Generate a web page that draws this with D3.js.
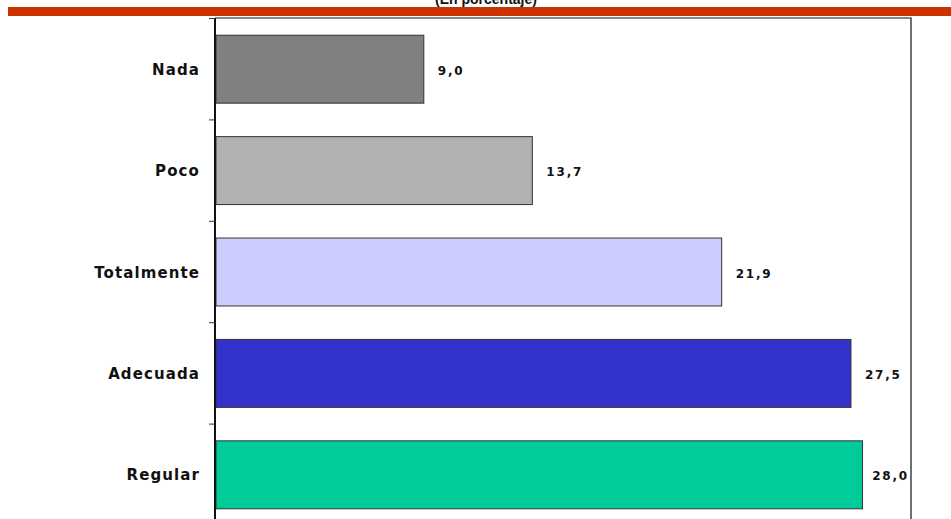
<!DOCTYPE html>
<html><head><meta charset="utf-8">
<script src="https://cdn.jsdelivr.net/npm/d3@7"></script>
<style>body{margin:0;background:#fff}svg{display:block}</style>
</head><body>
<svg id="c" width="951" height="519"></svg>
<script>
const categories = ["Nada","Poco","Totalmente","Adecuada","Regular"];
const values = [9.0, 13.7, 21.9, 27.5, 28.0];
const colors = ["#808080","#B2B2B2","#CCCCFF","#3333CC","#00CC99"];
const title = "(En porcentaje)";

const svg = d3.select("#c");
const pL = 215, pR = 911, pT = 18, pB = 525;
const x = d3.scaleLinear().domain([0, 30.1]).range([pL+1, pR]);
const y = d3.scaleBand().domain(categories).range([pT, pB]).paddingInner(0.33).paddingOuter(0.165);
const yTicks = d3.scaleBand().domain(categories).range([pT, pB]);
const FONT = "DejaVu Sans, Verdana, sans-serif";

// header band
svg.append("rect").attr("x",8).attr("y",7).attr("width",943).attr("height",9).attr("fill","#CC3300");
svg.append("text").attr("x",486).attr("y",4).attr("text-anchor","middle")
  .attr("font-family","Liberation Sans, Arial, sans-serif").attr("font-weight","bold").attr("font-size",14).attr("fill","#111")
  .text(title);

// frame
svg.append("path").attr("d",`M${pL},${pT}H${pR}V${pB}`).attr("fill","none").attr("stroke","#111").attr("stroke-width",1.2);

// bars
svg.selectAll("rect.bar").data(categories).enter().append("rect").attr("class","bar")
  .attr("x", x(0)).attr("y", d=>y(d)+0.5)
  .attr("width", (d,i)=>x(values[i])-x(0)).attr("height", y.bandwidth())
  .attr("fill",(d,i)=>colors[i]).attr("stroke","#333").attr("stroke-width",1);

// axis
svg.append("line").attr("x1",pL).attr("x2",pL).attr("y1",pT).attr("y2",pB).attr("stroke","#111").attr("stroke-width",2);
const tickYs = categories.map(c=>yTicks(c)).concat([pB]);
svg.selectAll("line.tick").data(tickYs).enter().append("line").attr("class","tick")
  .attr("x1",pL-6).attr("x2",pL).attr("y1",d=>d+0.5).attr("y2",d=>d+0.5).attr("stroke","#333").attr("stroke-width",1);

// category labels
svg.selectAll("text.cat").data(categories).enter().append("text").attr("class","cat")
  .attr("x",200).attr("y",d=>y(d)+y.bandwidth()/2+6).attr("text-anchor","end")
  .attr("font-family",FONT).attr("font-weight","bold").attr("font-size",15)
  .attr("letter-spacing","1.1px").attr("fill","#111").text(d=>d);

// value labels
svg.selectAll("text.val").data(categories).enter().append("text").attr("class","val")
  .attr("y",d=>y(d)+y.bandwidth()/2+6)
  .attr("font-family",FONT).attr("font-weight","bold").attr("font-size",12)
  .attr("letter-spacing","1.8px").attr("fill","#111")
  .text((d,i)=>values[i].toFixed(1).replace(".",","))
  .each(function(d,i){
    const w = this.getComputedTextLength();
    let tx = x(values[i]) + 14;
    if (tx + w > pR - 2) tx = pR - 2 - w;
    d3.select(this).attr("x", tx);
  });
</script>
</body></html>
